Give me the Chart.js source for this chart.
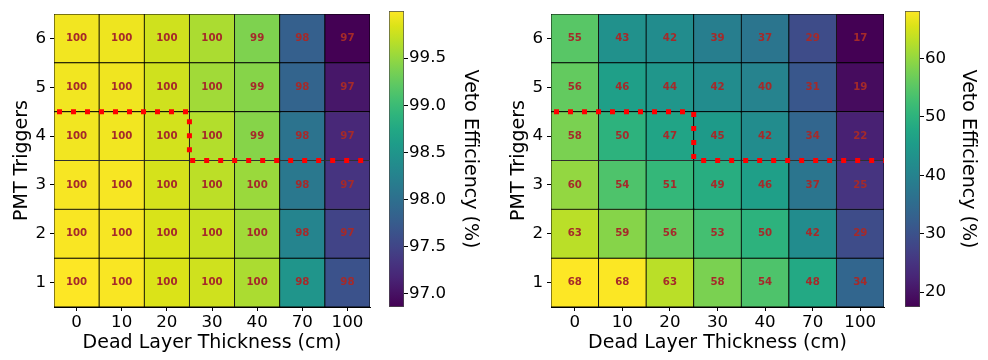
<!DOCTYPE html>
<html>
<head>
<meta charset="utf-8">
<script src="https://cdn.jsdelivr.net/npm/chart.js@4.4.0/dist/chart.umd.min.js"></script>
<style>
  body { margin: 0; background: #fff; }
  #wrap { position: relative; width: 988px; height: 360px; }
  .box { position: absolute; top: 0; height: 360px; }
</style>
</head>
<body>
<div id="wrap">
  <div class="box" style="left:0;width:380px"><canvas id="heatTotal"></canvas></div>
  <div class="box" style="left:380px;width:110px"><canvas id="barTotal"></canvas></div>
  <div class="box" style="left:497px;width:393px"><canvas id="heatPartial"></canvas></div>
  <div class="box" style="left:896px;width:92px"><canvas id="barPartial"></canvas></div>
</div>
<script>
const thickness = ['0', '10', '20', '30', '40', '70', '100'];
const triggers = [1, 2, 3, 4, 5, 6];

// veto efficiency (%), one row per PMT trigger count (1 -> 6)
const totalEff = [
  [100.0, 99.98, 99.84, 99.78, 99.61, 98.49, 97.65],
  [99.98, 99.97, 99.83, 99.75, 99.56, 98.27, 97.49],
  [99.97, 99.97, 99.81, 99.69, 99.53, 98.12, 97.33],
  [99.95, 99.95, 99.80, 99.65, 99.43, 98.05, 97.21],
  [99.95, 99.94, 99.78, 99.56, 99.43, 97.86, 97.05],
  [99.95, 99.93, 99.78, 99.61, 99.39, 97.80, 96.86]
];
const partialEff = [
  [68.15, 68, 63, 58, 54, 48, 34],
  [63, 59, 56, 53, 50, 42, 29],
  [60, 54, 51, 49, 46, 37, 25],
  [58, 50, 47, 45, 42, 34, 22],
  [56, 46, 44, 42, 40, 31, 19],
  [55, 43, 42, 39, 37, 29, 17.45]
];
const totalTicks = [97.0, 97.5, 98.0, 98.5, 99.0, 99.5];
const partialTicks = [20, 30, 40, 50, 60];

// trigger threshold boundary (cell index / trigger units)
const stepX = [-0.5, 2.5, 2.5, 6.5];
const stepY = [4.5, 4.5, 3.5, 3.5];

const VIRIDIS = ['#440154', '#471365', '#482576', '#463480', '#414487', '#3b528b', '#35608d',
  '#2f6c8e', '#2a788e', '#25848e', '#21908c', '#1e9c89', '#22a884', '#2fb47c', '#43bf71',
  '#5dc863', '#7ad151', '#9ad93c', '#bbdf27', '#dce318', '#fde725'];

function hexRgb(h) {
  return [1, 3, 5].map(i => parseInt(h.slice(i, i + 2), 16));
}

function viridis(t) {
  t = Math.max(0, Math.min(1, t));
  const p = t * (VIRIDIS.length - 1);
  const i = Math.min(Math.floor(p), VIRIDIS.length - 2);
  const f = p - i;
  const a = hexRgb(VIRIDIS[i]), b = hexRgb(VIRIDIS[i + 1]);
  const c = a.map((v, k) => Math.round(v + (b[k] - v) * f));
  return `rgb(${c[0]},${c[1]},${c[2]})`;
}

Chart.defaults.font.family = '"DejaVu Sans"';
Chart.defaults.color = '#000';

const tickFont = { size: 16.67 };
const titleFont = { size: 19 };

function heatmap(id, values, rightPad) {
  const flat = values.flat();
  const lo = Math.min(...flat), hi = Math.max(...flat);

  const rows = triggers.map((trig, r) => ({
    type: 'bar',
    data: values[r].map(() => [trig - 0.5, trig + 0.5]),
    backgroundColor: values[r].map(v => viridis((v - lo) / (hi - lo))),
    borderColor: '#000',
    borderWidth: 0.8,
    borderSkipped: false,
    barPercentage: 1,
    categoryPercentage: 1,
    grouped: false,
    order: 1
  }));

  const step = {
    type: 'line',
    xAxisID: 'x2',
    data: stepX.map((x, i) => ({ x, y: stepY[i] })),
    borderColor: '#ff0000',
    borderWidth: 5,
    borderDash: [5, 9],
    borderDashOffset: 11,
    borderCapStyle: 'butt',
    pointRadius: 0,
    fill: false,
    order: 0
  };

  const cellText = {
    id: 'cellText',
    afterDatasetsDraw(chart) {
      const { ctx, scales: { x, y } } = chart;
      ctx.save();
      ctx.font = 'bold 10.2px "DejaVu Sans"';
      ctx.fillStyle = '#a52a2a';
      ctx.textAlign = 'center';
      ctx.textBaseline = 'middle';
      values.forEach((row, r) => row.forEach((v, c) => {
        ctx.fillText(v.toFixed(0), x.getPixelForValue(c), y.getPixelForValue(triggers[r]));
      }));
      ctx.restore();
    }
  };

  new Chart(document.getElementById(id), {
    data: { labels: thickness, datasets: [step, ...rows] },
    options: {
      responsive: true,
      maintainAspectRatio: false,
      animation: false,
      layout: { padding: { top: 10, right: rightPad, left: 0, bottom: 0 } },
      plugins: { legend: { display: false }, tooltip: { enabled: false } },
      scales: {
        x: {
          type: 'category',
          offset: true,
          grid: { offset: false, drawOnChartArea: false, tickLength: 4, tickColor: '#000' },
          border: { color: '#000' },
          ticks: { font: tickFont, color: '#000', padding: 1.5, maxRotation: 0, autoSkip: false },
          title: { display: true, text: 'Dead Layer Thickness (cm)', font: titleFont, color: '#000', padding: { top: 0, bottom: 5.5 } },
          afterFit: s => { s.height = 53; }
        },
        x2: { type: 'linear', min: -0.5, max: 6.5, display: false },
        y: {
          type: 'linear',
          min: 0.5,
          max: 6.5,
          afterBuildTicks: s => { s.ticks = triggers.map(v => ({ value: v })); },
          grid: { drawOnChartArea: false, tickLength: 4, tickColor: '#000' },
          border: { color: '#000' },
          ticks: { font: tickFont, color: '#000', padding: 4 },
          title: { display: true, text: 'PMT Triggers', font: titleFont, color: '#000', padding: { top: 10.3, bottom: 0 } },
          afterFit: s => { s.width = 54; }
        }
      }
    },
    plugins: [cellText]
  });
}

function colorbar(id, values, tickVals, decimals, axisWidth) {
  const flat = values.flat();
  const lo = Math.min(...flat), hi = Math.max(...flat);

  new Chart(document.getElementById(id), {
    type: 'bar',
    data: {
      labels: [''],
      datasets: [{
        data: [[lo, hi]],
        backgroundColor: c => {
          const area = c.chart.chartArea;
          if (!area) return null;
          const g = c.chart.ctx.createLinearGradient(0, area.bottom, 0, area.top);
          VIRIDIS.forEach((col, k) => g.addColorStop(k / (VIRIDIS.length - 1), col));
          return g;
        },
        borderColor: 'rgba(0,0,0,0.7)',
        borderWidth: 1,
        borderSkipped: false,
        barPercentage: 1,
        categoryPercentage: 1
      }]
    },
    options: {
      responsive: true,
      maintainAspectRatio: false,
      animation: false,
      layout: { padding: { top: 10, bottom: 53, left: 9, right: 0 } },
      plugins: { legend: { display: false }, tooltip: { enabled: false } },
      scales: {
        x: { display: false },
        y: {
          position: 'right',
          min: lo,
          max: hi,
          afterBuildTicks: s => { s.ticks = tickVals.map(v => ({ value: v })); },
          grid: { drawOnChartArea: false, tickLength: 4, tickColor: '#000' },
          border: { display: false },
          ticks: { font: tickFont, color: '#000', padding: 1, callback: v => v.toFixed(decimals) },
          title: { display: true, text: 'Veto Efficiency (%)', font: titleFont, color: '#000', padding: { top: 8.6, bottom: 0 } },
          afterFit: s => { s.width = axisWidth; }
        }
      }
    }
  });
}

heatmap('heatTotal', totalEff, 10);
colorbar('barTotal', totalEff, totalTicks, 1, 86);
heatmap('heatPartial', partialEff, 6);
colorbar('barPartial', partialEff, partialTicks, 0, 68);
</script>
</body>
</html>
